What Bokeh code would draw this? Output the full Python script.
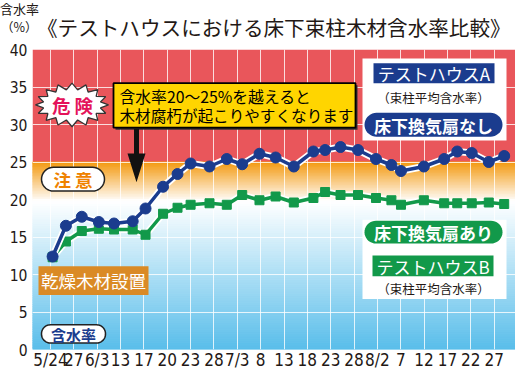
import numpy as np
from bokeh.plotting import figure
from bokeh.models import Label, FixedTicker, Range1d, Div
from bokeh.layouts import column
from bokeh.embed import file_html
from bokeh.resources import INLINE

# ---------------- data ----------------
x_labels = ["5/24", "27", "6/3", "13", "17", "20", "23", "28", "7/3", "8",
            "13", "18", "23", "28", "8/2", "7", "12", "17", "22", "27"]
y_ticks = [0, 5, 10, 15, 20, 25, 30, 35, 40]
# measurement positions, in units of the category tick spacing
x_pos = [0.09, 0.66, 1.34, 2.07, 2.72, 3.52, 4.07, 4.82, 5.44, 6.00,
         6.81, 7.55, 8.21, 8.95, 9.64, 10.42, 11.26, 11.76, 12.42, 13.17,
         13.94, 14.60, 15.01, 15.99, 16.86, 17.42, 18.04, 18.77, 19.43]
house_a = [12.4, 16.5, 17.7, 17.0, 16.8, 17.1, 18.8, 21.7, 23.4, 24.8,
           24.4, 25.4, 24.7, 26.1, 25.6, 24.4, 26.4, 26.6, 27.0, 26.6,
           25.4, 24.6, 23.8, 24.4, 25.4, 26.4, 26.2, 25.0, 25.8]
house_b = [12.3, 14.4, 15.8, 16.1, 16.0, 16.0, 15.3, 18.1, 18.9, 19.3,
           19.5, 19.3, 20.6, 19.9, 20.4, 19.6, 20.2, 21.0, 20.6, 20.6,
           20.2, 19.9, 19.3, 19.9, 19.5, 19.5, 19.5, 19.6, 19.4]
title_text = "《テストハウスにおける床下束柱木材含水率比較》"
unit_top = "含水率"
unit_bottom = "（%）"

# ---------------- styling ----------------
RED = "#E9565B"
ORANGE = "#F39A12"
BLUE = "#58BDEA"
WHITE = "#FFFFFF"
NAVY = "#1B3C8E"
GREEN = "#12994A"
YELLOW = "#FFD500"
BROWN = "#DA8A25"
INK = "#231815"
JP = "Noto Sans CJK JP"
NUM = "'Liberation Sans Narrow', 'DejaVu Sans Condensed', sans-serif"

HEAD_H = 41
# page-pixel -> data helpers (layout only)
def X(px):
    return (px - 50.0) / 23.35

def Y(py):
    return 40.0 * (352.0 - py) / 303.0

def pts(points):
    return [X(a) for a, b in points], [Y(b) for a, b in points]

def rrect(x0, y0, x1, y1, r, n=10):
    out = []
    for cx, cy, a0 in [(x1 - r, y0 + r, -90), (x1 - r, y1 - r, 0),
                       (x0 + r, y1 - r, 90), (x0 + r, y0 + r, 180)]:
        for a in np.linspace(a0, a0 + 90, n):
            t = np.radians(a)
            out.append((cx + r * np.cos(t), cy + r * np.sin(t)))
    return pts(out)

def lerp(c1, c2, t):
    a = [int(c1[i:i + 2], 16) for i in (1, 3, 5)]
    b = [int(c2[i:i + 2], 16) for i in (1, 3, 5)]
    return "#%02x%02x%02x" % tuple(int(round(a[k] + (b[k] - a[k]) * t)) for k in range(3))

# ---------------- header (title row) ----------------
span = "position:absolute;white-space:nowrap;margin:0;padding:0;"
head_html = (
    f'<div style="position:relative;width:515px;height:{HEAD_H}px;overflow:hidden;'
    f"font-family:'{JP}';color:{INK};\">"
    f'<span style="{span}left:0px;top:1px;font-size:13px;line-height:15px;">{unit_top}</span>'
    f'<span style="{span}left:1px;top:19px;font-size:12.5px;line-height:15px;">{unit_bottom}</span>'
    f'<span style="{span}left:37px;top:14px;font-size:20.6px;line-height:27px;">{title_text}</span>'
    '</div>'
)
header = Div(text=head_html, width=515, height=HEAD_H, margin=0)

# ---------------- main chart ----------------
p = figure(width=515, height=372 - HEAD_H, output_backend="svg", toolbar_location=None,
           x_range=Range1d(X(32), X(515)), y_range=Range1d(0, 40),
           min_border_left=32, min_border_right=0, min_border_top=8, min_border_bottom=20,
           background_fill_color="white", border_fill_color="white")
p.outline_line_color = None

# background bands
x_l, x_r = X(32), X(515)
p.quad(left=x_l, right=x_r, bottom=25, top=40, fill_color=RED, line_color=None, level="image")
edges = np.linspace(19.8, 25, 27)
cols = [lerp(WHITE, ORANGE, ((edges[i] + edges[i + 1]) / 2 - 19.8) / 5.2) for i in range(len(edges) - 1)]
p.quad(left=x_l, right=x_r, bottom=edges[:-1], top=edges[1:], fill_color=cols,
       line_color=cols, line_width=1, level="image")
edges = np.linspace(0, 19.8, 67)
cols = [lerp(BLUE, WHITE, ((edges[i] + edges[i + 1]) / 2) / 19.8) for i in range(len(edges) - 1)]
p.quad(left=x_l, right=x_r, bottom=edges[:-1], top=edges[1:], fill_color=cols,
       line_color=cols, line_width=1, level="image")

# grid
p.xgrid.ticker = FixedTicker(ticks=list(range(len(x_labels))))
p.ygrid.ticker = FixedTicker(ticks=y_ticks)
for g in (p.xgrid, p.ygrid):
    g.grid_line_color = "white"
    g.grid_line_alpha = 0.8
    g.grid_line_width = 1

# axes
p.xaxis.ticker = FixedTicker(ticks=list(range(len(x_labels))))
p.xaxis.major_label_overrides = {i: s for i, s in enumerate(x_labels)}
p.yaxis.ticker = FixedTicker(ticks=y_ticks)
for ax in (p.xaxis, p.yaxis):
    ax.axis_line_color = None
    ax.major_tick_line_color = None
    ax.minor_tick_line_color = None
    ax.major_tick_out = 0
    ax.major_tick_in = 0
    ax.major_label_text_font = NUM
    ax.major_label_text_color = INK
p.xaxis.major_label_text_font_size = "17px"
p.xaxis.major_label_standoff = 0
p.yaxis.major_label_text_font_size = "15.5px"
p.yaxis.major_label_standoff = 5

# series
p.line(x_pos, house_b, line_color="white", line_width=7)
p.line(x_pos, house_b, line_color=GREEN, line_width=3.5)
p.scatter(x_pos, house_b, marker="square", size=9, fill_color=GREEN, line_color=GREEN)
p.line(x_pos, house_a, line_color="white", line_width=7)
p.line(x_pos, house_a, line_color=NAVY, line_width=3.5)
p.scatter(x_pos, house_a, marker="circle", size=11, fill_color=NAVY, line_color=NAVY)

def lab(px, py, text, size, color=INK, bold=False, align="center"):
    p.add_layout(Label(x=X(px), y=Y(py), text=text, text_font=JP,
                       text_font_size=f"{size}px", text_color=color,
                       text_font_style="bold" if bold else "normal",
                       text_align=align, text_baseline="middle"))

# 危険 starburst
cx, cy, n = 71.5, 105, 16
star = []
for k in range(2 * n):
    a = np.pi * k / n
    rx, ry = (36.5, 22) if k % 2 == 0 else (29, 15.5)
    star.append((cx + rx * np.cos(a), cy + ry * np.sin(a)))
sx, sy = pts(star)
p.patch(sx, sy, fill_color="white", line_color="#333333", line_width=1.3)
lab(72, 105, "危 険", 18.5, "#E4135A", bold=True)

# 注意 pill
xs, ys = rrect(41, 168, 104, 192, 12)
p.patch(xs, ys, fill_color="white", line_color="#222222", line_width=1.5)
lab(72.5, 180, "注 意", 17.5, "#EF8200", bold=True)

# 含水率 pill
xs, ys = rrect(41, 327, 105, 345.5, 9)
p.patch(xs, ys, fill_color="white", line_color="#222222", line_width=1.5)
lab(73, 336.5, "含水率", 15, NAVY, bold=True)

# 乾燥木材設置 box
xs, ys = pts([(38, 268), (148, 268), (148, 297), (38, 297)])
p.patch(xs, ys, fill_color=BROWN, line_color=None)
lab(93, 282.5, "乾燥木材設置", 17.5, "white")

# callout box + arrow
xs, ys = pts([(115, 85), (357, 85), (357, 130), (115, 130)])
p.patch(xs, ys, fill_color="#333333", line_color=None)
xs, ys = pts([(113, 83), (355, 83), (355, 128), (113, 128)])
p.patch(xs, ys, fill_color=YELLOW, line_color="black", line_width=1.8)
lab(119, 96, "含水率20〜25%を越えると", 15.8, "black", align="left")
lab(119, 115, "木材腐朽が起こりやすくなります", 15.6, "black", align="left")
xs, ys = pts([(133.5, 129), (138.5, 129), (138.5, 154), (145, 154), (136, 183),
              (127, 154), (133.5, 154)])
p.patch(xs, ys, fill_color="#111111", line_color=None)

# legend A
xs, ys = pts([(362, 58), (506, 58), (506, 141), (362, 141)])
p.patch(xs, ys, fill_color="white", line_color=None)
xs, ys = pts([(373, 63), (494, 63), (494, 83), (373, 83)])
p.patch(xs, ys, fill_color=NAVY, line_color=None)
lab(433.5, 73.5, "テストハウスA", 17, "white")
lab(433, 97, "（束柱平均含水率）", 12.5, INK)
xs, ys = rrect(364, 113, 502, 137, 12)
p.patch(xs, ys, fill_color=NAVY, line_color=None)
lab(433, 125.5, "床下換気扇なし", 17, "white", bold=True)

# legend B
xs, ys = pts([(362, 221), (506, 221), (506, 301), (362, 301)])
p.patch(xs, ys, fill_color="white", line_color=None)
xs, ys = rrect(364, 222, 502, 245, 11.5)
p.patch(xs, ys, fill_color=GREEN, line_color=None)
lab(433, 234, "床下換気扇あり", 17, "white", bold=True)
xs, ys = pts([(372, 257), (493, 257), (493, 278), (372, 278)])
p.patch(xs, ys, fill_color=GREEN, line_color=None)
lab(432.5, 268, "テストハウスB", 17, "white")
lab(433, 290, "（束柱平均含水率）", 12.5, INK)

layout = column(header, p, spacing=0)
open("out.html", "w").write(file_html(layout, INLINE))
